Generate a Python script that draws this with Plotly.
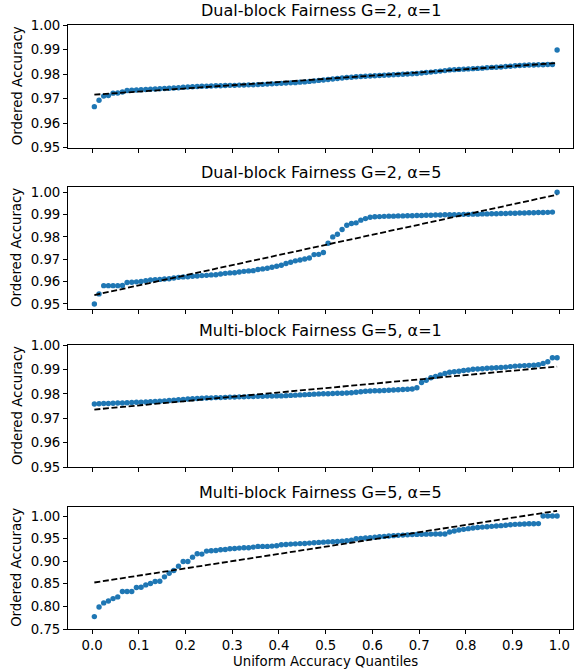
import plotly.graph_objects as go

# ---------------- data ----------------
titles = [
    "Dual-block Fairness G=2, α=1",
    "Dual-block Fairness G=2, α=5",
    "Multi-block Fairness G=5, α=1",
    "Multi-block Fairness G=5, α=5",
]

n_points = 100
quantiles = [(k + 0.5) / n_points for k in range(n_points)]

acc_dual_a1 = [
    0.9667, 0.9693, 0.9710, 0.9712, 0.9722, 0.9723, 0.9727, 0.9733, 0.9734, 0.9735,
    0.9736, 0.9737, 0.9738, 0.9739, 0.9740, 0.9741, 0.9742, 0.9743, 0.9744, 0.9746,
    0.9747, 0.9748, 0.9749, 0.9750, 0.9750, 0.9751, 0.9752, 0.9752, 0.9753, 0.9754,
    0.9754, 0.9755, 0.9755, 0.9756, 0.9756, 0.9757, 0.9758, 0.9759, 0.9760, 0.9761,
    0.9762, 0.9763, 0.9764, 0.9765, 0.9767, 0.9768, 0.9770, 0.9772, 0.9774, 0.9776,
    0.9778, 0.9780, 0.9782, 0.9784, 0.9786, 0.9787, 0.9789, 0.9790, 0.9791, 0.9792,
    0.9793, 0.9794, 0.9795, 0.9796, 0.9797, 0.9798, 0.9799, 0.9800, 0.9801, 0.9802,
    0.9804, 0.9806, 0.9808, 0.9810, 0.9812, 0.9814, 0.9817, 0.9818, 0.9819, 0.9820,
    0.9821, 0.9822, 0.9823, 0.9824, 0.9826, 0.9827, 0.9828, 0.9829, 0.9831, 0.9832,
    0.9834, 0.9835, 0.9836, 0.9837, 0.9837, 0.9838, 0.9838, 0.9839, 0.9839, 0.9898,
]

acc_dual_a5 = [
    0.9500, 0.9545, 0.9582, 0.9582, 0.9582, 0.9582, 0.9583, 0.9596, 0.9597, 0.9599,
    0.9601, 0.9604, 0.9607, 0.9609, 0.9610, 0.9612, 0.9613, 0.9616, 0.9619, 0.9621,
    0.9622, 0.9624, 0.9625, 0.9627, 0.9628, 0.9630, 0.9631, 0.9634, 0.9637, 0.9639,
    0.9640, 0.9643, 0.9646, 0.9648, 0.9649, 0.9654, 0.9657, 0.9660, 0.9664, 0.9669,
    0.9673, 0.9681, 0.9687, 0.9693, 0.9697, 0.9701, 0.9706, 0.9721, 0.9722, 0.9730,
    0.9772, 0.9800, 0.9812, 0.9833, 0.9852, 0.9860, 0.9863, 0.9875, 0.9882, 0.9888,
    0.9890, 0.9891, 0.9892, 0.9893, 0.9893, 0.9894, 0.9894, 0.9895, 0.9895, 0.9896,
    0.9896, 0.9897, 0.9897, 0.9898, 0.9898, 0.9899, 0.9899, 0.9900, 0.9900, 0.9901,
    0.9901, 0.9902, 0.9902, 0.9903, 0.9903, 0.9904, 0.9904, 0.9905, 0.9905, 0.9906,
    0.9906, 0.9907, 0.9907, 0.9908, 0.9908, 0.9909, 0.9909, 0.9910, 0.9911, 1.0000,
]

acc_multi_a1 = [
    0.9759, 0.9760, 0.9761, 0.9761, 0.9762, 0.9763, 0.9763, 0.9764, 0.9765, 0.9766,
    0.9766, 0.9767, 0.9768, 0.9769, 0.9770, 0.9771, 0.9773, 0.9774, 0.9776, 0.9777,
    0.9779, 0.9780, 0.9781, 0.9782, 0.9783, 0.9784, 0.9785, 0.9785, 0.9786, 0.9787,
    0.9787, 0.9788, 0.9788, 0.9789, 0.9789, 0.9790, 0.9790, 0.9791, 0.9791, 0.9792,
    0.9792, 0.9793, 0.9794, 0.9795, 0.9796, 0.9797, 0.9798, 0.9799, 0.9800, 0.9801,
    0.9801, 0.9802, 0.9803, 0.9803, 0.9804, 0.9805, 0.9807, 0.9809, 0.9811, 0.9812,
    0.9813, 0.9813, 0.9814, 0.9815, 0.9816, 0.9817, 0.9818, 0.9819, 0.9820, 0.9825,
    0.9847, 0.9856, 0.9866, 0.9872, 0.9878, 0.9884, 0.9889, 0.9891, 0.9893, 0.9896,
    0.9898, 0.9901, 0.9902, 0.9903, 0.9905, 0.9906, 0.9907, 0.9908, 0.9910, 0.9912,
    0.9914, 0.9915, 0.9916, 0.9917, 0.9918, 0.9920, 0.9925, 0.9932, 0.9948, 0.9948,
]

acc_multi_a5 = [
    0.7774, 0.7988, 0.8077, 0.8121, 0.8173, 0.8210, 0.8328, 0.8328, 0.8328, 0.8417,
    0.8425, 0.8476, 0.8506, 0.8550, 0.8558, 0.8654, 0.8735, 0.8794, 0.8891, 0.8994,
    0.8994, 0.9090, 0.9164, 0.9157, 0.9223, 0.9231, 0.9238, 0.9253, 0.9260, 0.9275,
    0.9282, 0.9290, 0.9297, 0.9297, 0.9312, 0.9327, 0.9327, 0.9327, 0.9334, 0.9342,
    0.9364, 0.9371, 0.9378, 0.9384, 0.9389, 0.9393, 0.9400, 0.9408, 0.9416, 0.9422,
    0.9428, 0.9433, 0.9438, 0.9445, 0.9455, 0.9467, 0.9497, 0.9505, 0.9512, 0.9519,
    0.9530, 0.9540, 0.9549, 0.9557, 0.9565, 0.9572, 0.9578, 0.9583, 0.9588, 0.9593,
    0.9596, 0.9598, 0.9600, 0.9601, 0.9601, 0.9601, 0.9645, 0.9668, 0.9689, 0.9705,
    0.9720, 0.9734, 0.9744, 0.9754, 0.9763, 0.9771, 0.9779, 0.9786, 0.9796, 0.9806,
    0.9815, 0.9820, 0.9824, 0.9828, 0.9830, 0.9832, 1.0000, 1.0000, 1.0000, 1.0000,
]

series = [acc_dual_a1, acc_dual_a5, acc_multi_a1, acc_multi_a5]

# dashed reference (fit) line endpoints at the first / last quantile
fit_start = [0.9716, 0.9540, 0.9736, 0.8529]
fit_end = [0.9845, 0.9989, 0.9912, 1.0115]

y_ranges = [[0.95, 1.00], [0.9478, 1.0024], [0.95, 1.00], [0.75, 1.0206]]
y_ticks = [
    [0.95, 0.96, 0.97, 0.98, 0.99, 1.00],
    [0.95, 0.96, 0.97, 0.98, 0.99, 1.00],
    [0.95, 0.96, 0.97, 0.98, 0.99, 1.00],
    [0.75, 0.80, 0.85, 0.90, 0.95, 1.00],
]
x_ticks = [0.0, 0.1, 0.2, 0.3, 0.4, 0.5, 0.6, 0.7, 0.8, 0.9, 1.0]

# ---------------- figure ----------------
FONT = "DejaVu Sans"
domains = [[0.797, 1.0], [0.530, 0.732], [0.268, 0.470], [0.0, 0.2025]]

fig = go.Figure()
layout = dict(
    width=586, height=670,
    margin=dict(l=68, r=13, t=25, b=41),
    paper_bgcolor="white", plot_bgcolor="white",
    showlegend=False,
    font=dict(family=FONT, size=13.3, color="black"),
)
annotations = []

for k in range(4):
    xa = "x" if k == 0 else f"x{k+1}"
    ya = "y" if k == 0 else f"y{k+1}"
    fig.add_trace(go.Scatter(
        x=quantiles, y=series[k], mode="markers",
        marker=dict(color="#1f77b4", size=5.4, line=dict(width=0)),
        xaxis=xa, yaxis=ya,
    ))
    fig.add_trace(go.Scatter(
        x=[quantiles[0], quantiles[-1]], y=[fit_start[k], fit_end[k]],
        mode="lines", line=dict(color="black", width=1.8, dash="6px,2.6px"),
        xaxis=xa, yaxis=ya,
    ))
    axis_common = dict(
        showline=True, linecolor="black", linewidth=1, mirror=True,
        showgrid=False, zeroline=False,
        ticks="outside", ticklen=4, tickwidth=1, tickcolor="black",
        tickfont=dict(family=FONT, size=13.3, color="black"),
    )
    xkey = "xaxis" if k == 0 else f"xaxis{k+1}"
    ykey = "yaxis" if k == 0 else f"yaxis{k+1}"
    layout[xkey] = dict(
        axis_common, domain=[0, 1], range=[-0.0514, 1.029],
        tickvals=x_ticks, tickformat=".1f",
        showticklabels=(k == 3), anchor=ya,
    )
    layout[ykey] = dict(
        axis_common, domain=domains[k], range=y_ranges[k],
        tickvals=y_ticks[k], tickformat=".2f", anchor=xa,
    )
    annotations.append(dict(
        text=titles[k], xref="paper", yref="paper", x=0.5, y=domains[k][1],
        xanchor="center", yanchor="bottom", yshift=3, showarrow=False,
        font=dict(family=FONT, size=16, color="black"),
    ))
    annotations.append(dict(
        text="Ordered Accuracy", xref="paper", yref="paper", x=0,
        y=(domains[k][0] + domains[k][1]) / 2, xshift=-51,
        xanchor="center", yanchor="middle", textangle=-90, showarrow=False,
        font=dict(family=FONT, size=13.3, color="black"),
    ))

annotations.append(dict(
    text="Uniform Accuracy Quantiles", xref="paper", yref="paper",
    x=(92.3 + 0.5 * 467 - 68) / 505, y=0, yshift=-32,
    xanchor="center", yanchor="middle", showarrow=False,
    font=dict(family=FONT, size=13.3, color="black"),
))
layout["annotations"] = annotations
fig.update_layout(**layout)
fig.write_html(
    "out.html",
    config={"displayModeBar": False, "staticPlot": True},
    post_script="document.body.style.margin='0px';document.body.style.padding='0px';",
)
